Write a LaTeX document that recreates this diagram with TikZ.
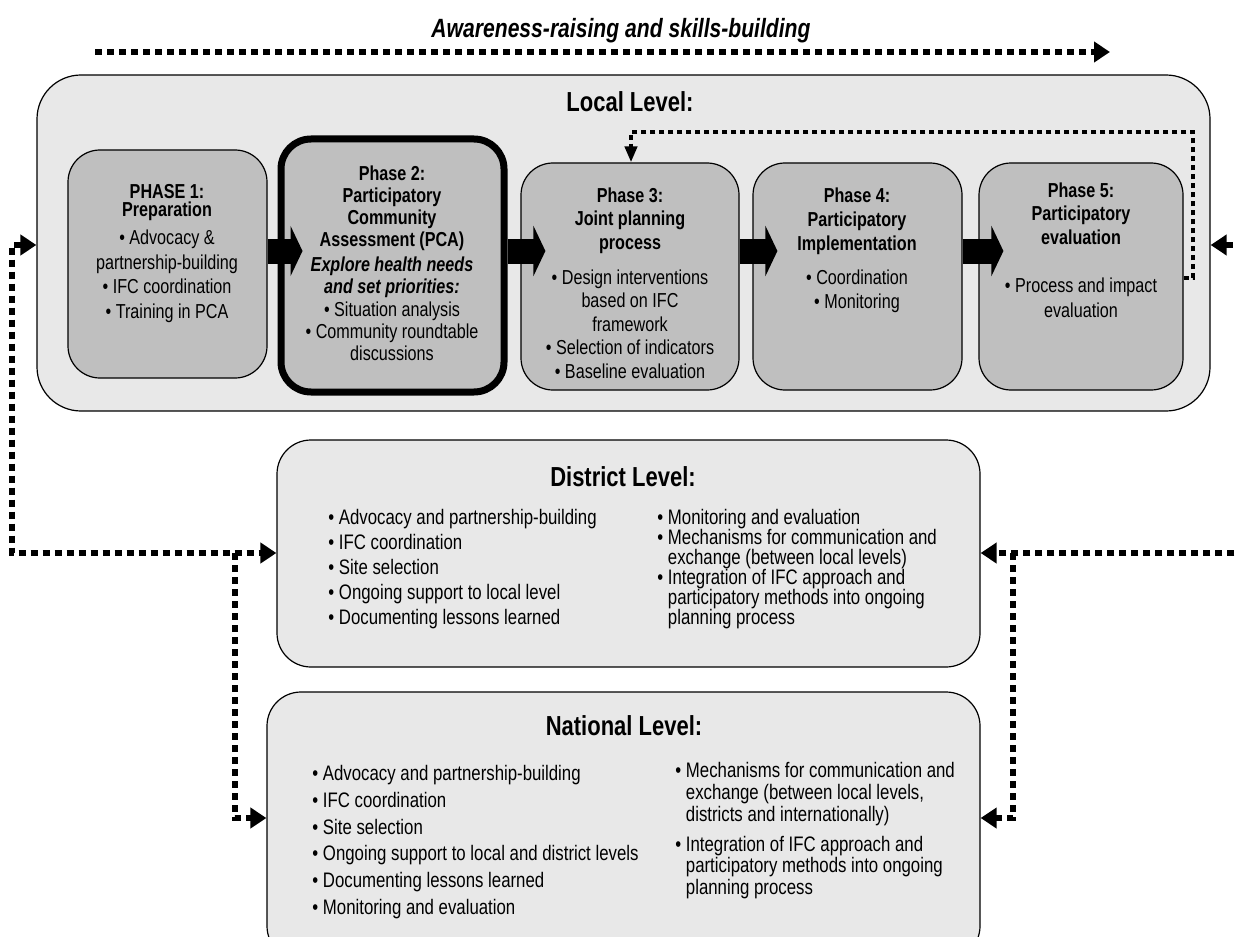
\documentclass[tikz,border=0pt]{standalone}
\usepackage{fontspec}
\setmainfont{Liberation Sans}[FakeStretch=0.8]
\usetikzlibrary{arrows.meta,fit}
\tikzset{
  levelbox/.style={draw, line width=0.6pt, fill=black!9, rounded corners=22pt, inner sep=0pt},
  phasebox/.style={draw, line width=0.6pt, fill=black!25, rounded corners=16pt, inner sep=0pt},
  pcabox/.style={phasebox, line width=3.5pt, rounded corners=15pt},
  blockarrow/.style={line width=12.5pt, -{Triangle[length=6pt,width=25pt]}, shorten >=-12.5pt},
  dotline/.style={line width=3pt, dash pattern=on 3.5pt off 2.5pt, >={Triangle[length=8pt,width=10pt]}},
  feedback/.style={line width=2pt, dash pattern=on 2.5pt off 2pt, -{Triangle[length=8pt,width=6pt]}},
  phasetext/.style={align=center, inner sep=0pt, anchor=north},
  listtext/.style={align=left, inner sep=0pt, anchor=north west},
  leveltitle/.style={inner sep=0pt, anchor=base, font=\bfseries\fontsize{13.75}{16}\selectfont},
}

\begin{document}
\begin{tikzpicture}[x=0.5pt, y=-0.5pt]
      \path [use as bounding box, clip] (0,0) rectangle (1235,936);

      \node [inner sep=0pt, anchor=base, font=\bfseries\itshape\fontsize{13.2}{15}\selectfont] (title) at (621,38) {Awareness-raising and skills-building};
      \coordinate (awstart) at (95,52);
      \coordinate (awend)   at (1110,52);
      \draw [dotline,->] (awstart) to (awend);

      \node [levelbox, fit={(37,75) (1210,411)}] (local) {};
      \node [leveltitle] (localtitle) at (630,112) {Local Level:};

      \node [phasebox, fit={(68,150) (267,378)}]  (p1) {};
      \node [pcabox,   fit={(281,139) (504,392)}] (p2) {};
      \node [phasebox, fit={(521,163) (739,390)}] (p3) {};
      \node [phasebox, fit={(753,163) (962,390)}] (p4) {};
      \node [phasebox, fit={(979,163) (1183,390)}] (p5) {};

      \node [phasetext, font=\fontsize{10.1}{12.25}\selectfont] (p1text) at (167,184)
        {\textbf{PHASE 1:}\\[-3.25pt]\textbf{Preparation}\\[1.75pt]• Advocacy \&\\partnership-building\\• IFC coordination\\• Training in PCA};
      \node [phasetext, font=\fontsize{10.1}{11}\selectfont] (p2text) at (392,165)
        {\textbf{Phase 2:}\\\textbf{Participatory}\\\textbf{Community}\\\textbf{Assessment (PCA)}\\[1.5pt]\textbf{\textit{Explore health needs}}\\\textbf{\textit{and set priorities:}}\\[0.5pt]• Situation analysis\\• Community roundtable\\discussions};
      \node [phasetext, font=\fontsize{10.1}{11.75}\selectfont] (p3text) at (630,187)
        {\textbf{Phase 3:}\\\textbf{Joint planning}\\\textbf{process}\\[5.75pt]• Design interventions\\based on IFC\\framework\\• Selection of indicators\\• Baseline evaluation};
      \node [phasetext, font=\fontsize{10.1}{12}\selectfont] (p4text) at (857,187)
        {\textbf{Phase 4:}\\\textbf{Participatory}\\\textbf{Implementation}\\[5pt]• Coordination\\• Monitoring};
      \node [phasetext, font=\fontsize{10.1}{11.75}\selectfont] (p5text) at (1081,182)
        {\textbf{Phase 5:}\\\textbf{Participatory}\\\textbf{evaluation}\\[12.25pt]• Process and impact\\[0.75pt]evaluation};

      \coordinate (arrowrow) at (0,251);
      \draw [blockarrow] (p1.east |- arrowrow) to (p2.west |- arrowrow);
      \draw [blockarrow] (p2.east |- arrowrow) to (p3.west |- arrowrow);
      \draw [blockarrow] (p3.east |- arrowrow) to (p4.west |- arrowrow);
      \draw [blockarrow] (p4.east |- arrowrow) to (p5.west |- arrowrow);

      \coordinate (fbrow)    at (0,278);
      \coordinate (fbcorner) at (1193,132);
      \coordinate (fbcol)    at (631,0);
      \draw [feedback] (p5.east |- fbrow) -| (fbcorner) -| (p3.north -| fbcol);

      \node [levelbox, rounded corners=17pt, fit={(277,440) (980,667)}] (district) {};
      \node [leveltitle] (districttitle) at (623,486) {District Level:};
      \node [listtext, font=\fontsize{10.5}{12.5}\selectfont] (districtleft) at (328,509)
        {• Advocacy and partnership-building\\• IFC coordination\\• Site selection\\• Ongoing support to local level\\• Documenting lessons learned};
      \node [listtext, font=\fontsize{10.5}{10}\selectfont] (districtright) at (657,509)
        {• Monitoring and evaluation\\• Mechanisms for communication and\\\hphantom{• }exchange (between local levels)\\• Integration of IFC approach and\\\hphantom{• }participatory methods into ongoing\\\hphantom{• }planning process};

      \node [levelbox, rounded corners=17pt, fit={(267,692) (980,960)}] (national) {};
      \node [leveltitle] (nationaltitle) at (624,735) {National Level:};
      \node [listtext, font=\fontsize{10.5}{13.35}\selectfont] (nationalleft) at (312,765)
        {• Advocacy and partnership-building\\• IFC coordination\\• Site selection\\• Ongoing support to local and district levels\\• Documenting lessons learned\\• Monitoring and evaluation};
      \node [listtext, font=\fontsize{10.5}{10.85}\selectfont] (nationalright) at (675,762)
        {• Mechanisms for communication and\\\hphantom{• }exchange (between local levels,\\\hphantom{• }districts and internationally)\\[4.15pt]• Integration of IFC approach and\\\hphantom{• }participatory methods into ongoing\\\hphantom{• }planning process};

      \coordinate (lefttop)     at (12,245);
      \coordinate (leftturn)    at (12,553);
      \coordinate (leftbranch)  at (235,553);
      \coordinate (righttop)    at (1250,245);
      \coordinate (rightturn)   at (1250,553);
      \coordinate (rightbranch) at (1013,553);
      \coordinate (nationalrow) at (0,818);
      \draw [dotline,<->] (local.west |- lefttop) -- (lefttop) -- (leftturn) -- (district.west |- leftturn);
      \draw [dotline,->] (leftbranch) |- (national.west |- nationalrow);
      \draw [dotline,<->] (local.east |- righttop) -- (righttop) -- (rightturn) -- (district.east |- rightturn);
      \draw [dotline,->] (rightbranch) |- (national.east |- nationalrow);
    \end{tikzpicture}
\end{document}
